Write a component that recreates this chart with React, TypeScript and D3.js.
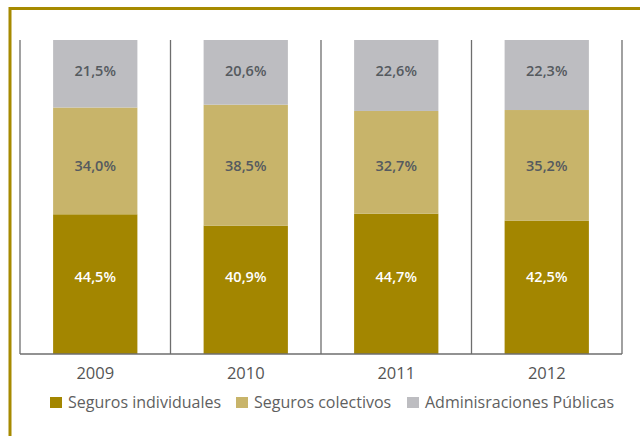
import { useEffect, useRef } from 'react';
import * as d3 from 'd3';

const width = 640;
const height = 436;

const years = ['2009', '2010', '2011', '2012'];
const individuales = [44.5, 40.9, 44.7, 42.5];
const colectivos = [34.0, 38.5, 32.7, 35.2];
const publicas = [21.5, 20.6, 22.6, 22.3];
const seriesNames = ['Seguros individuales', 'Seguros colectivos', 'Adminisraciones Públicas'];
const colors = ['#a38600', '#c8b46a', '#bdbdc1'];
const labelColors = ['#ffffff', '#555a5f', '#555a5f'];
// las etiquetas van a la misma altura en todas las columnas
const labelY = [277, 166, 71];

export default function App() {
    const ref = useRef<SVGSVGElement | null>(null);

    useEffect(() => {
        const svg = d3.select(ref.current);
        svg.selectAll('*').remove();

        const font = "'Open Sans', sans-serif";

        // marco dorado
        svg.append('path')
            .attr('d', `M10,${height} V8.5 H${width}`)
            .attr('fill', 'none')
            .attr('stroke', '#a68a00')
            .attr('stroke-width', 3);

        const x = d3.scaleBand().domain(years).range([20, 622]).paddingInner(0.44).paddingOuter(0.22);
        const y = d3.scaleLinear().domain([0, 100]).range([354, 40]);

        const table = years.map((yr, i) => ({
            year: yr,
            individuales: individuales[i],
            colectivos: colectivos[i],
            publicas: publicas[i]
        }));
        const stack = d3.stack<any>().keys(['individuales', 'colectivos', 'publicas'])(table);

        // separadores
        const step = x.step();
        const seps = d3.range(years.length + 1).map((i) => 20 + i * step);
        svg.append('g')
            .selectAll('line')
            .data(seps)
            .join('line')
            .attr('x1', (d) => d)
            .attr('x2', (d) => d)
            .attr('y1', y(100))
            .attr('y2', y(0))
            .attr('stroke', '#6e6e6e')
            .attr('stroke-width', 1.3);

        stack.forEach((layer, k) => {
            const g = svg.append('g');
            g.selectAll('rect')
                .data(layer)
                .join('rect')
                .attr('x', (d) => x(d.data.year)!)
                .attr('width', x.bandwidth())
                .attr('y', (d) => y(d[1]))
                .attr('height', (d) => y(d[0]) - y(d[1]))
                .attr('fill', colors[k]);
            g.selectAll('text')
                .data(layer)
                .join('text')
                .attr('x', (d) => x(d.data.year)! + x.bandwidth() / 2)
                .attr('y', labelY[k])
                .attr('dy', '0.35em')
                .attr('text-anchor', 'middle')
                .attr('font-family', font)
                .attr('font-size', 14.5)
                .attr('font-weight', 600)
                .attr('fill', labelColors[k])
                .text((d) => (d[1] - d[0]).toFixed(1).replace('.', ',') + '%');
        });

        // línea base
        svg.append('line')
            .attr('x1', 20)
            .attr('x2', 622)
            .attr('y1', y(0))
            .attr('y2', y(0))
            .attr('stroke', '#6e6e6e')
            .attr('stroke-width', 1.3);

        // años
        svg.append('g')
            .selectAll('text')
            .data(years)
            .join('text')
            .attr('x', (d) => x(d)! + x.bandwidth() / 2)
            .attr('y', 373)
            .attr('dy', '0.35em')
            .attr('text-anchor', 'middle')
            .attr('font-family', font)
            .attr('font-size', 16.5)
            .attr('fill', '#555555')
            .text((d) => d);

        // leyenda
        const legendX = [50, 236, 407];
        const legend = svg.append('g')
            .selectAll('g')
            .data(seriesNames)
            .join('g')
            .attr('transform', (_d, i) => `translate(${legendX[i]},397)`);
        legend.append('rect').attr('width', 12).attr('height', 11).attr('fill', (_d, i) => colors[i]);
        legend.append('text')
            .attr('x', 18)
            .attr('y', 5.5)
            .attr('dy', '0.35em')
            .attr('font-family', font)
            .attr('font-size', 16)
            .attr('fill', '#5f5f5f')
            .text((d) => d);
    }, []);

    return (
        <svg
            ref={ref}
            width={width}
            height={height}
            style={{ position: 'absolute', left: 0, top: 0, background: '#fff' }}
        />
    );
}
